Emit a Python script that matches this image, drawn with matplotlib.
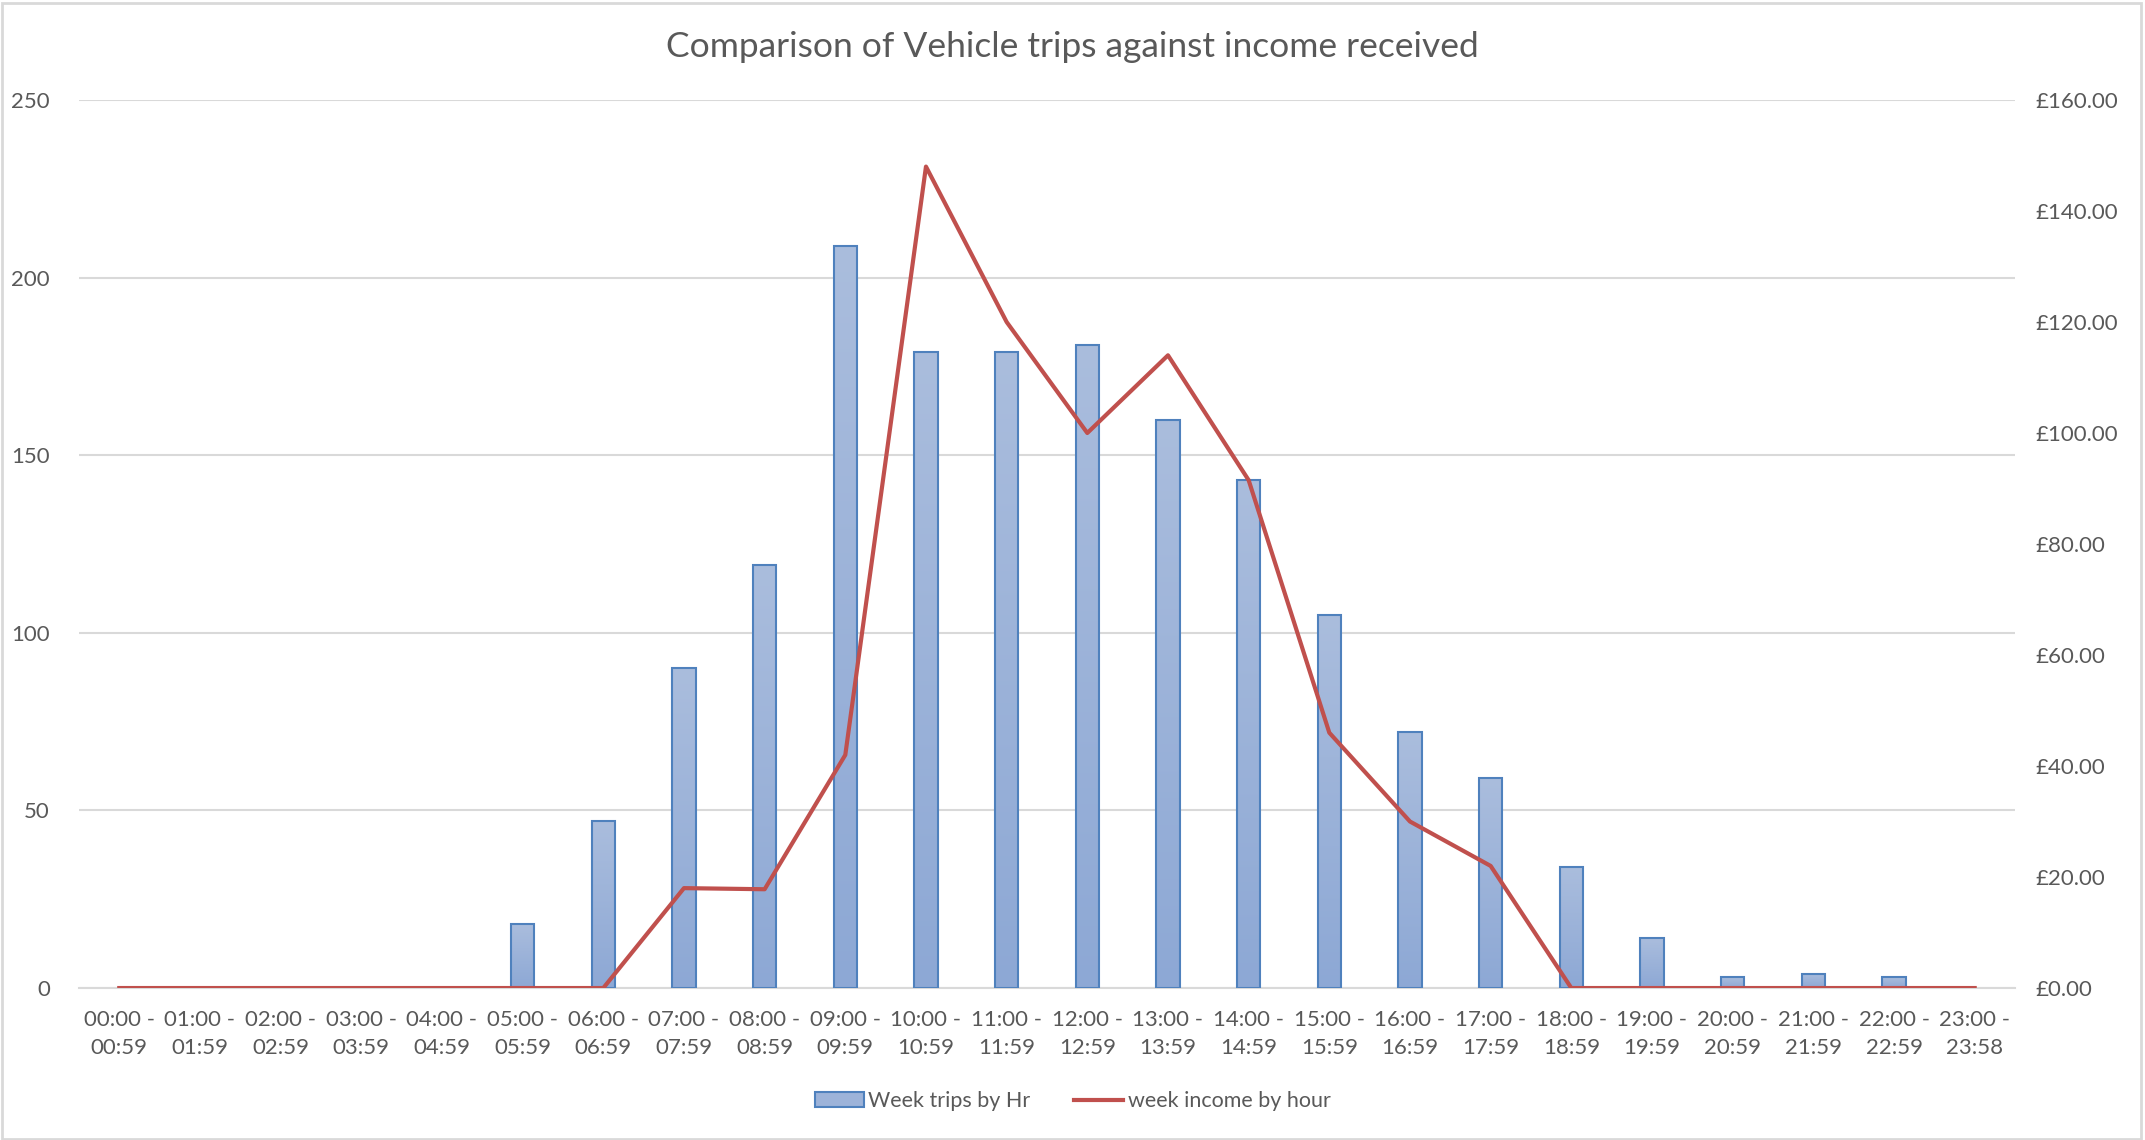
import matplotlib.pyplot as plt
import numpy as np
from matplotlib.colors import LinearSegmentedColormap
from matplotlib.patches import Rectangle
from matplotlib.ticker import FuncFormatter, MultipleLocator

plt.rcParams['font.family'] = ['Lato', 'DejaVu Sans']

hours = ["00:00 -\n00:59", "01:00 -\n01:59", "02:00 -\n02:59", "03:00 -\n03:59",
         "04:00 -\n04:59", "05:00 -\n05:59", "06:00 -\n06:59", "07:00 -\n07:59",
         "08:00 -\n08:59", "09:00 -\n09:59", "10:00 -\n10:59", "11:00 -\n11:59",
         "12:00 -\n12:59", "13:00 -\n13:59", "14:00 -\n14:59", "15:00 -\n15:59",
         "16:00 -\n16:59", "17:00 -\n17:59", "18:00 -\n18:59", "19:00 -\n19:59",
         "20:00 -\n20:59", "21:00 -\n21:59", "22:00 -\n22:59", "23:00 -\n23:58"]
trips = [0, 0, 0, 0, 0, 18, 47, 90, 119, 209, 179, 179,
         181, 160, 143, 105, 72, 59, 34, 14, 3, 4, 3, 0]
income = [0, 0, 0, 0, 0, 0, 0, 18, 17.8, 42, 148, 120,
          100, 114, 91.5, 46, 30, 22, 0, 0, 0, 0, 0, 0]

txt = '#595959'
grid = '#D9D9D9'

fig = plt.figure(figsize=(21.45, 11.4), dpi=100)
fig.patches.append(Rectangle((0.001, 0.001), 0.997, 0.996, transform=fig.transFigure,
                             fill=False, edgecolor='#D9D9D9', linewidth=2))
ax = fig.add_axes([0.0368, 0.1333, 0.9026, 0.779])
x = np.arange(len(hours))

bars = ax.bar(x, trips, width=0.29, color='#9DB3D9', linewidth=0,
              zorder=3, label='Week trips by Hr')
# vertical gradient fill inside each bar
cmap = LinearSegmentedColormap.from_list('g', ['#8DA8D5', '#AABDDD'])
grad = np.linspace(0, 1, 256).reshape(-1, 1)
for b in bars:
    if b.get_height() <= 0:
        continue
    bx, by, bw, bh = b.get_x(), b.get_y(), b.get_width(), b.get_height()
    im = ax.imshow(grad, cmap=cmap, aspect='auto', origin='lower',
                   extent=[bx, bx + bw, by, by + bh], zorder=3.5)
    im.set_clip_path(b)
    ax.add_patch(Rectangle((bx, by), bw, bh, fill=False, edgecolor='#4F81BD',
                           linewidth=1.5, zorder=3.6))

ax.set_xlim(-0.5, len(hours) - 0.5)
ax.set_ylim(0, 250)
ax.yaxis.set_major_locator(MultipleLocator(50))
ax.set_xticks(x)
ax.set_xticklabels(hours, linespacing=1.5)
ax.grid(axis='y', color=grid, linewidth=1.5, zorder=0)
ax.set_axisbelow(True)
for s in ['top', 'right', 'left']:
    ax.spines[s].set_visible(False)
ax.spines['bottom'].set_color(grid)
ax.spines['bottom'].set_linewidth(1.5)
ax.tick_params(length=0, colors=txt, labelsize=16)
ax.tick_params(axis='y', pad=21)
ax.tick_params(axis='x', pad=16)

ax2 = ax.twinx()
ax2.plot(x, income, color='#C0504D', linewidth=3, zorder=4, label='week income by hour')
ax2.set_ylim(0, 160)
ax2.yaxis.set_major_locator(MultipleLocator(20))
ax2.yaxis.set_major_formatter(FuncFormatter(lambda v, p: '£{:.2f}'.format(v)))
for s in ['top', 'right', 'left', 'bottom']:
    ax2.spines[s].set_visible(False)
ax2.tick_params(length=0, colors=txt, labelsize=16, pad=15)

fig.suptitle('Comparison of Vehicle trips against income received', y=0.973,
             fontsize=25.5, color=txt)

legend_bar = Rectangle((0, 0), 1, 1, facecolor='#9DB3D9', edgecolor='#4F81BD', linewidth=1.5)
h2, l2 = ax2.get_legend_handles_labels()
fig.legend([legend_bar] + h2, ['Week trips by Hr'] + l2, loc='center',
           bbox_to_anchor=(0.5, 0.034), ncol=2, frameon=False, fontsize=15.5,
           labelcolor=txt, columnspacing=2.0, handlelength=2.3, handletextpad=0.2)

fig.savefig('out.png', dpi=100)
